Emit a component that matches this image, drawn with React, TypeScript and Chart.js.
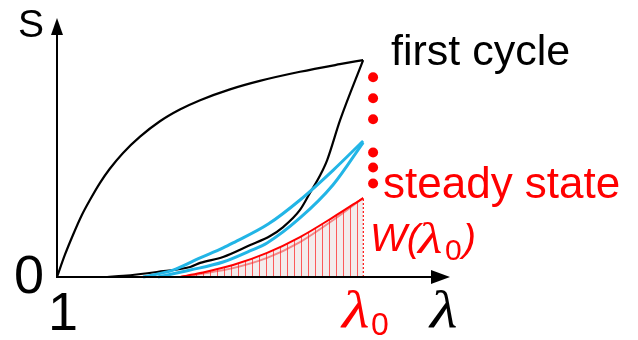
import React, { useEffect, useRef } from "react";
import { Chart, registerables } from "chart.js";

Chart.register(...registerables);

// stretch ratio λ (x) and nominal stress S (y), normalised to first-cycle peak
const LAMBDA0 = 1.8;
const X_MIN = 1;
const X_MAX = 2.027;
const Y_MIN = 0;
const Y_MAX = 1.194;

const firstLoadX = [1.0, 1.021, 1.042, 1.065, 1.086, 1.112, 1.138, 1.172, 1.217, 1.269, 1.321, 1.374, 1.452, 1.53, 1.635, 1.739, 1.8];
const firstLoadY = [0, 0.104, 0.195, 0.286, 0.355, 0.433, 0.499, 0.571, 0.647, 0.718, 0.772, 0.815, 0.865, 0.904, 0.946, 0.981, 1.0];

const firstUnloadX = [1.131, 1.173, 1.261, 1.348, 1.374, 1.434, 1.505, 1.557, 1.591, 1.635, 1.661, 1.688, 1.706, 1.74, 1.8];
const firstUnloadY = [0, 0.005, 0.023, 0.046, 0.065, 0.092, 0.147, 0.189, 0.23, 0.309, 0.387, 0.47, 0.539, 0.724, 1.0];

const blueUpperX = [1.225, 1.303, 1.374, 1.434, 1.46, 1.552, 1.635, 1.722, 1.8];
const blueUpperY = [0, 0.032, 0.088, 0.134, 0.157, 0.244, 0.355, 0.493, 0.627];

const blueLowerX = [1.264, 1.348, 1.434, 1.504, 1.549, 1.635, 1.721, 1.8];
const blueLowerY = [0, 0.032, 0.069, 0.12, 0.157, 0.272, 0.424, 0.62];

const steadyUpperX = [1.322, 1.374, 1.46, 1.549, 1.635, 1.722, 1.8];
const steadyUpperY = [0, 0.018, 0.055, 0.111, 0.184, 0.276, 0.364];

const steadyLowerX = [1.322, 1.374, 1.46, 1.549, 1.635, 1.722, 1.8];
const steadyLowerY = [0, 0.014, 0.041, 0.088, 0.161, 0.263, 0.364];

const dotsX = [1.826, 1.826, 1.826, 1.826, 1.826, 1.826];
const dotsY = [0.921, 0.824, 0.727, 0.574, 0.505, 0.431];

const zip = (xs: number[], ys: number[]) => xs.map((x, i) => ({ x, y: ys[i] }));

const BLACK = "#000000";
const BLUE = "#22b5e6";
const RED = "#ff0000";
const SANS = "'Liberation Sans', Arial, sans-serif";
const SERIF = "'Liberation Serif', 'Times New Roman', serif";

function makeHatch(): CanvasPattern | string {
  const c = document.createElement("canvas");
  c.width = 7;
  c.height = 4;
  const g = c.getContext("2d");
  if (!g) return "rgba(255,0,0,0.1)";
  g.fillStyle = "rgba(235,225,225,0.6)";
  g.fillRect(0, 0, 7, 4);
  g.fillStyle = "rgba(255,40,40,0.75)";
  g.fillRect(0, 0, 1, 4);
  const p = g.createPattern(c, "repeat");
  return p || "rgba(255,0,0,0.1)";
}

function wideText(ctx: CanvasRenderingContext2D, text: string, x: number, y: number, sx: number) {
  ctx.save();
  ctx.translate(x, y);
  ctx.scale(sx, 1);
  ctx.fillText(text, 0, 0);
  ctx.restore();
}

const overlayPlugin = {
  id: "overlay",
  afterDatasetsDraw(chart: any) {
    const { ctx, chartArea } = chart;
    const { left, right, top, bottom } = chartArea;
    ctx.save();
    ctx.strokeStyle = BLACK;
    ctx.fillStyle = BLACK;
    ctx.lineWidth = 2;
    // x axis
    ctx.beginPath();
    ctx.moveTo(left, bottom);
    ctx.lineTo(right - 10, bottom);
    ctx.stroke();
    ctx.beginPath();
    ctx.moveTo(right, bottom);
    ctx.lineTo(right - 19, bottom - 7);
    ctx.lineTo(right - 19, bottom + 7);
    ctx.closePath();
    ctx.fill();
    // y axis
    ctx.beginPath();
    ctx.moveTo(left, bottom + 1);
    ctx.lineTo(left, top + 10);
    ctx.stroke();
    ctx.beginPath();
    ctx.moveTo(left, top);
    ctx.lineTo(left - 6, top + 17);
    ctx.lineTo(left + 6, top + 17);
    ctx.closePath();
    ctx.fill();
    ctx.restore();
  },
  afterDraw(chart: any) {
    const { ctx } = chart;
    ctx.save();
    ctx.textBaseline = "alphabetic";
    ctx.textAlign = "left";
    // axis symbols
    ctx.fillStyle = BLACK;
    ctx.font = `39px ${SANS}`;
    ctx.fillText("S", 18, 37);
    ctx.font = `54px ${SANS}`;
    ctx.fillText("0", 14, 293);
    ctx.textAlign = "center";
    ctx.fillText("1", 63, 330);
    ctx.textAlign = "left";
    ctx.font = `italic 52px ${SERIF}`;
    wideText(ctx, "λ", 430, 327, 1.22);
    // labels
    ctx.font = `43px ${SANS}`;
    ctx.fillText("first cycle", 391, 65);
    ctx.fillStyle = RED;
    ctx.font = `44px ${SANS}`;
    ctx.fillText("steady state", 383, 198);
    // W(λ0)
    ctx.font = `italic 39px ${SANS}`;
    ctx.fillText("W(", 370, 251);
    ctx.font = `italic 45px ${SERIF}`;
    wideText(ctx, "λ", 418, 253, 1.25);
    ctx.font = `30px ${SANS}`;
    ctx.fillText("0", 445, 260);
    ctx.font = `italic 39px ${SANS}`;
    ctx.fillText(")", 463, 251);
    // λ0 below axis
    ctx.font = `italic 52px ${SERIF}`;
    wideText(ctx, "λ", 342, 327, 1.22);
    ctx.font = `32px ${SANS}`;
    ctx.fillText("0", 371, 335);
    ctx.restore();
  },
};

export default function App() {
  const ref = useRef<HTMLCanvasElement | null>(null);
  useEffect(() => {
    if (!ref.current) return;
    const hatch = makeHatch();
    const line = (data: any[], color: string, width: number, extra: any = {}) => ({
      data,
      showLine: true,
      borderColor: color,
      backgroundColor: color,
      borderWidth: width,
      pointRadius: 0,
      cubicInterpolationMode: "monotone",
      clip: false,
      fill: false,
      ...extra,
    });
    const chart = new Chart(ref.current, {
      type: "scatter",
      data: {
        datasets: [
          line(zip(steadyUpperX, steadyUpperY), RED, 2, { fill: "origin", backgroundColor: hatch }),
          line(zip(steadyLowerX, steadyLowerY), RED, 2),
          line(
            [
              { x: LAMBDA0, y: 0 },
              { x: LAMBDA0, y: steadyUpperY[steadyUpperY.length - 1] },
            ],
            RED,
            1.5,
            { borderDash: [2, 2], cubicInterpolationMode: "default", tension: 0 }
          ),
          line(zip(blueUpperX, blueUpperY), BLUE, 3),
          line(zip(blueLowerX, blueLowerY), BLUE, 3),
          line(zip(firstLoadX, firstLoadY), BLACK, 2.2),
          line(zip(firstUnloadX, firstUnloadY), BLACK, 2.2),
          {
            data: zip(dotsX, dotsY),
            showLine: false,
            pointRadius: 5,
            pointBackgroundColor: RED,
            pointBorderWidth: 0,
            clip: false,
          },
        ],
      },
      options: {
        animation: false,
        responsive: false,
        devicePixelRatio: 1,
        layout: { padding: { left: 57, right: 188, top: 18, bottom: 63 } },
        plugins: { legend: { display: false }, tooltip: { enabled: false } },
        elements: { line: { capBezierPoints: false } },
        scales: {
          x: { type: "linear", min: X_MIN, max: X_MAX, display: false },
          y: { type: "linear", min: Y_MIN, max: Y_MAX, display: false },
        },
      },
      plugins: [overlayPlugin],
    } as any);
    return () => chart.destroy();
  }, []);
  return (
    <div style={{ position: "fixed", left: 0, top: 0, width: 638, height: 340, background: "#fff" }}>
      <canvas ref={ref} width={638} height={340} style={{ width: 638, height: 340 }} />
    </div>
  );
}
